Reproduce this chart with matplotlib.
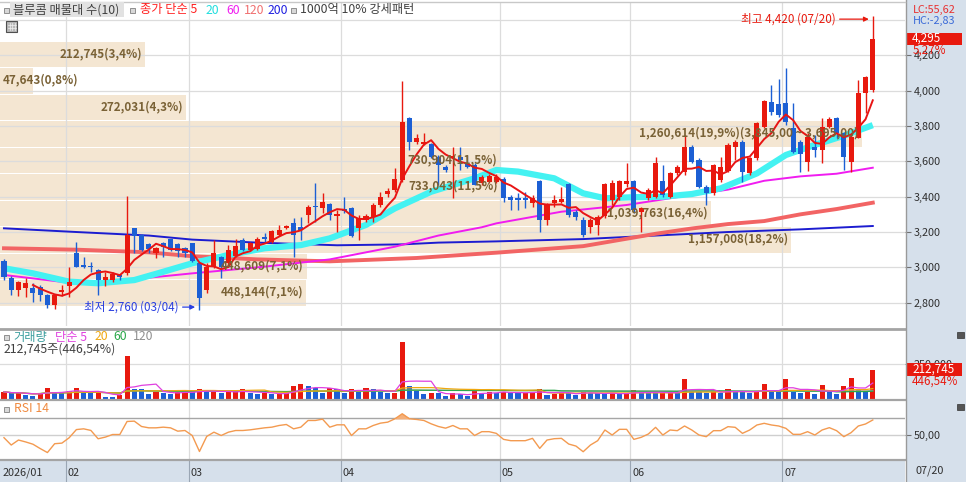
import matplotlib
matplotlib.use('Agg')
import matplotlib.pyplot as plt
import numpy as np
import pandas as pd
from matplotlib.patches import Rectangle
from matplotlib.lines import Line2D
from matplotlib.transforms import blended_transform_factory as blend
from matplotlib.ticker import FuncFormatter

plt.rcParams['font.family'] = ['Noto Sans CJK KR', 'DejaVu Sans']

# ---------------- data ----------------
opens = [3038, 2942, 2872, 2881, 2881, 2890, 2843, 2787, 2860, 2896,
         3079, 3013, 3010, 2985, 2928, 2928, 2957, 2966, 3221, 3183,
         3132, 3079, 3140, 3158, 3132, 3111, 3136, 3023, 2872, 3004,
         3057, 3023, 3064, 3155, 3098, 3106, 3170, 3145, 3183, 3221,
         3253, 3226, 3296, 3347, 3334, 3358, 3290, 3328, 3334, 3221,
         3268, 3287, 3353, 3415, 3438, 3494, 3843, 3711, 3700, 3698,
         3623, 3570, 3620, 3623, 3585, 3579, 3475, 3483, 3485, 3499,
         3397, 3391, 3391, 3363, 3491, 3268, 3363, 3372, 3472, 3315,
         3268, 3231, 3240, 3290, 3380, 3400, 3472, 3491, 3316, 3391,
         3397, 3491, 3400, 3532, 3542, 3680, 3608, 3457, 3419, 3495,
         3548, 3680, 3712, 3532, 3617, 3797, 3937, 3924, 3932, 3786,
         3711, 3598, 3683, 3664, 3796, 3843, 3758, 3598, 3735, 3988,
         4004]
highs = [3045, 2950, 2925, 2938, 2909, 2900, 2850, 2850, 2900, 3000,
         3145, 3057, 3032, 2989, 2976, 2975, 2965, 3404, 3225, 3190,
         3135, 3115, 3145, 3162, 3136, 3117, 3140, 3032, 3023, 3155,
         3064, 3126, 3158, 3164, 3145, 3174, 3196, 3211, 3240, 3240,
         3277, 3287, 3353, 3475, 3419, 3362, 3324, 3400, 3340, 3296,
         3300, 3362, 3428, 3447, 3560, 4057, 3853, 3755, 3760, 3706,
         3636, 3580, 3683, 3683, 3636, 3589, 3522, 3530, 3530, 3514,
         3410, 3420, 3429, 3410, 3495, 3363, 3410, 3457, 3480, 3325,
         3287, 3277, 3297, 3480, 3495, 3495, 3593, 3495, 3344, 3447,
         3627, 3580, 3542, 3580, 3750, 3693, 3617, 3466, 3585, 3627,
         3702, 3721, 3721, 3627, 3825, 3948, 4032, 4064, 4126, 3928,
         3721, 3758, 3749, 3843, 3853, 3853, 3768, 3758, 4060, 4083,
         4420]
lows = [2930, 2844, 2838, 2834, 2806, 2810, 2770, 2765, 2836, 2834,
        3000, 2994, 2976, 2844, 2895, 2915, 2930, 2955, 3079, 3090,
        3079, 3055, 3060, 3090, 3060, 3060, 3032, 2760, 2855, 2994,
        2938, 3004, 3060, 3090, 3090, 3100, 3145, 3136, 3177, 3215,
        3060, 3155, 3249, 3258, 3306, 3268, 3202, 3310, 3174, 3155,
        3258, 3258, 3340, 3400, 3428, 3485, 3664, 3700, 3693, 3617,
        3466, 3540, 3390, 3551, 3560, 3466, 3466, 3475, 3475, 3372,
        3325, 3325, 3335, 3344, 3202, 3240, 3344, 3363, 3287, 3268,
        3174, 3193, 3183, 3280, 3353, 3380, 3457, 3306, 3202, 3382,
        3391, 3400, 3391, 3520, 3523, 3589, 3448, 3353, 3410, 3485,
        3542, 3608, 3485, 3523, 3608, 3787, 3862, 3853, 3806, 3645,
        3541, 3547, 3627, 3592, 3787, 3730, 3551, 3541, 3730, 3872,
        3994]
closes = [2947, 2872, 2919, 2909, 2853, 2843, 2787, 2843, 2870, 2919,
          3004, 3004, 3000, 2928, 2947, 2960, 2943, 3183, 3177, 3098,
          3102, 3108, 3113, 3098, 3094, 3079, 3038, 2824, 3004, 3079,
          3004, 3098, 3121, 3098, 3136, 3158, 3160, 3206, 3211, 3234,
          3183, 3211, 3340, 3340, 3372, 3296, 3300, 3321, 3177, 3277,
          3291, 3353, 3396, 3434, 3498, 3825, 3711, 3730, 3710, 3623,
          3579, 3551, 3628, 3608, 3570, 3466, 3513, 3517, 3514, 3391,
          3382, 3382, 3382, 3391, 3268, 3353, 3382, 3386, 3297, 3287,
          3183, 3268, 3287, 3472, 3476, 3491, 3491, 3325, 3334, 3438,
          3593, 3410, 3536, 3570, 3680, 3598, 3457, 3423, 3580, 3570,
          3693, 3712, 3542, 3617, 3815, 3944, 3881, 3862, 3824, 3654,
          3641, 3739, 3664, 3796, 3838, 3758, 3626, 3739, 3988, 4080,
          4295]
volumes = [49000, 37000, 42000, 25000, 22000, 42000, 74000, 49000, 37000, 54000,
           74000, 49000, 42000, 44000, 12000, 10000, 25000, 310000, 69000, 68000,
           32000, 49000, 42000, 32000, 49000, 52000, 49000, 69000, 49000, 50000,
           42000, 49000, 50000, 69000, 37000, 32000, 37000, 36000, 37000, 38000,
           91000, 106000, 91000, 74000, 37000, 74000, 67000, 37000, 69000, 49000,
           74000, 67000, 49000, 37000, 42000, 415000, 91000, 54000, 32000, 42000,
           37000, 17000, 37000, 32000, 17000, 62000, 37000, 49000, 42000, 49000,
           42000, 37000, 42000, 49000, 67000, 25000, 32000, 49000, 42000, 25000,
           49000, 42000, 37000, 32000, 37000, 32000, 42000, 62000, 44000, 42000,
           37000, 42000, 49000, 44000, 141000, 49000, 49000, 42000, 49000, 44000,
           67000, 52000, 49000, 37000, 49000, 104000, 49000, 49000, 143000, 49000,
           44000, 49000, 32000, 99000, 49000, 32000, 91000, 153000, 62000, 47643,
           212745]
rsi14 = [46.8, 38.0, 44.0, 41.7, 39.0, 33.8, 29.0, 39.6, 40.3, 46.7,
         56.5, 57.4, 55.5, 45.5, 47.5, 50.6, 50.6, 66.2, 66.6, 60.2,
         58.6, 58.6, 59.4, 58.6, 54.6, 55.4, 49.4, 30.3, 48.3, 53.4,
         49.4, 53.4, 55.4, 55.4, 56.2, 57.4, 58.6, 59.4, 61.4, 62.6,
         57.4, 59.4, 67.4, 67.4, 69.0, 59.4, 62.2, 62.2, 49.4, 57.4,
         57.4, 61.4, 64.2, 65.4, 69.4, 75.4, 69.4, 68.6, 67.4, 63.4,
         60.2, 58.2, 61.4, 57.4, 57.4, 49.4, 54.0, 54.0, 52.0, 44.8,
         43.2, 43.2, 43.2, 46.0, 34.0, 44.0, 45.6, 46.0, 39.2, 36.8,
         30.0, 38.0, 43.2, 56.0, 50.0, 56.8, 56.8, 44.8, 47.2, 51.2,
         59.2, 50.0, 56.0, 55.2, 60.8, 56.0, 50.0, 48.0, 55.2, 55.2,
         60.0, 59.2, 52.0, 56.0, 62.0, 64.0, 62.0, 60.8, 58.0, 50.8,
         50.8, 54.0, 50.0, 56.0, 58.8, 55.2, 48.0, 52.8, 60.8, 63.2,
         68.0]

# moving averages of price (candle index, value)
ma20_idx = [0, 4, 9, 13, 18, 22, 26, 31, 36, 41, 45, 50, 54, 59, 65, 68, 71, 76, 80, 83, 87, 91, 95, 99, 104, 108, 112, 116, 120]
ma20_val = [2995, 2966, 2919, 2910, 2928, 2975, 3023, 3070, 3108, 3126, 3164, 3240, 3334, 3428, 3504, 3551, 3542, 3504, 3419, 3391, 3397, 3400, 3415, 3447, 3532, 3636, 3693, 3745, 3805]
ma60_idx = [0, 9, 16, 26, 36, 45, 54, 60, 66, 68, 77, 86, 95, 100, 105, 110, 115, 120]
ma60_val = [2957, 2913, 2925, 2966, 3004, 3045, 3117, 3180, 3227, 3249, 3315, 3353, 3410, 3440, 3490, 3515, 3530, 3564]
ma120_idx = [0, 10, 20, 26, 35, 45, 57, 68, 80, 90, 95, 100, 105, 110, 115, 120]
ma120_val = [3108, 3100, 3085, 3063, 3045, 3034, 3053, 3083, 3120, 3190, 3220, 3245, 3262, 3300, 3330, 3366]
ma200_idx = [0, 10, 20, 26, 35, 46, 55, 60, 68, 80, 90, 100, 110, 120]
ma200_val = [3221, 3200, 3180, 3157, 3140, 3125, 3130, 3140, 3147, 3160, 3180, 3200, 3215, 3234]

# volume profile (매물대), 10 price bins from the top
vp_volumes = [212745, 47643, 272031, 1260614, 730904, 733043, 1039763, 1157008, 448609, 448144]
vp_top = 4295
vp_step = 150

month_labels = ['2026/01', '02', '03', '04', '05', '06', '07']
month_start = [0, 9, 26, 47, 69, 87, 108]
high_date = '07/20'
low_date = '03/04'
last_date = '07/20'
lc_text = 'LC:55,62'
hc_text = 'HC:-2,83'

# ---------------- style ----------------
W, H = 966, 482
RED = '#e8190e'
BLUE = '#1c5fd4'
GRID = '#dcdcdc'
BEIGE = '#f4e6d2'
BROWN = '#7a6236'
STRIP = '#d6e0eb'
FS = 8.8

fig = plt.figure(figsize=(W / 100, H / 100), dpi=100)
fig.patch.set_facecolor('white')


def axrect(top, bottom, left=0, right=905):
    return [left / W, 1 - bottom / H, (right - left) / W, (bottom - top) / H]


def fx(xp):
    return xp / W


def fy(yp):
    return 1 - yp / H


fig.patches.append(Rectangle((fx(906), 0), fx(60), 1, transform=fig.transFigure,
                             fc=STRIP, ec='none', zorder=-5))

ax = fig.add_axes(axrect(2, 326))
axv = fig.add_axes(axrect(331, 398.5), sharex=ax)
axr = fig.add_axes(axrect(401, 459), sharex=ax)
axd = fig.add_axes(axrect(461, 482), sharex=ax)

n = len(closes)
assert len(opens) == n and len(highs) == n and len(lows) == n and len(volumes) == n and len(rsi14) == n
x = np.arange(n)
o = np.array(opens, float)
h = np.array(highs, float)
l = np.array(lows, float)
c = np.array(closes, float)
v = np.array(volumes, float)
r = np.array(rsi14, float)

for a in (ax, axv, axr, axd):
    a.set_xlim(-0.55, 124.45)
    for s in a.spines.values():
        s.set_visible(False)
    a.tick_params(axis='x', which='both', bottom=False, labelbottom=False)

# ---------------- price panel ----------------
ax.set_ylim(2668, 4502)
bl = blend(ax.transAxes, ax.transData)
vmax = max(vp_volumes)
vtot = sum(vp_volumes)
for k, vol in enumerate(vp_volumes):
    top = vp_top - vp_step * k
    bot = top - vp_step
    frac = vol / vmax * 0.952
    ax.add_patch(Rectangle((0, bot - 12), frac, vp_step - 6, transform=bl,
                           fc=BEIGE, ec='none', zorder=0.3))
    pct = f'{vol / vtot * 100:.1f}'.replace('.', ',')
    label = f'{vol:,}({pct}%)'
    if vol == vmax:
        label += f'({top:,.2f} ~ {bot:,.2f})'.replace('.', ',')
    ym = (top + bot) / 2 - 10
    if vol / vmax < 0.1:
        ax.text(0.003, ym, label, transform=bl, ha='left', va='center',
                fontsize=8.4, color=BROWN, fontweight='bold', zorder=8)
    else:
        ax.text(frac - 0.003, ym, label, transform=bl, ha='right', va='center',
                fontsize=8.4, color=BROWN, fontweight='bold', zorder=8)

for p in range(2800, 4401, 200):
    ax.axhline(p, color=GRID, lw=0.9, zorder=0.6)
for s in month_start[1:]:
    for a in (ax, axv, axr):
        a.axvline(s - 0.5, color=GRID, lw=0.9, zorder=0.6)

ax.plot(ma200_idx, ma200_val, color='#1c1cd0', lw=1.4, zorder=1.5)
ax.plot(ma120_idx, ma120_val, color='#f26464', lw=2.8, zorder=1.5)
ax.plot(ma60_idx, ma60_val, color='#f01cf0', lw=1.4, zorder=1.6)
ax.plot(ma20_idx, ma20_val, color='#44f2f2', lw=4.5, zorder=1.7, solid_capstyle='butt')

up = c >= o
ccol = np.where(up, RED, BLUE)
ax.vlines(x, l, h, colors=ccol, lw=1, zorder=3)
body_lo = np.minimum(o, c)
body_h = np.maximum(np.abs(c - o), 7)
ax.bar(x, body_h, bottom=body_lo, width=0.7, color=ccol, zorder=3.1, linewidth=0)

ma5 = pd.Series(c).rolling(5).mean()
ax.plot(x, ma5, color='#e81414', lw=1.4, zorder=4)

ax.yaxis.tick_right()
ax.set_yticks(range(2800, 4201, 200))
ax.yaxis.set_major_formatter(FuncFormatter(lambda val, pos: f'{int(val):,}'))
ax.tick_params(axis='y', direction='out', length=4, width=0.8, color='#707070',
               pad=2, labelsize=7.8, labelcolor='#303030')

ihi = int(np.argmax(h))
ilo = int(np.argmin(l))
ax.annotate(f'최고 {int(h[ihi]):,} ({high_date})', xy=(ihi - 0.55, h[ihi] - 15),
            xytext=(-24, 0), textcoords='offset points', ha='right', va='center',
            fontsize=8.4, color=RED, zorder=9,
            arrowprops=dict(arrowstyle='-|>', color=RED, lw=0.9, mutation_scale=7,
                            shrinkA=1, shrinkB=0))
ax.annotate(f'최저 {int(l[ilo]):,} ({low_date})', xy=(ilo - 0.6, l[ilo] + 15),
            xytext=(-12, 0), textcoords='offset points', ha='right', va='center',
            fontsize=8.4, color='#2a3fe0', zorder=9,
            arrowprops=dict(arrowstyle='-|>', color='#2a3fe0', lw=0.9, mutation_scale=7,
                            shrinkA=1, shrinkB=0))

# last price box
chg = (c[-1] / c[-2] - 1) * 100
ax.add_patch(Rectangle((1.0022, c[-1] - 34), 0.0608, 68, transform=bl,
                       fc=RED, ec='none', clip_on=False, zorder=10))
ax.text(1.008, c[-1], f'{int(c[-1]):,}', transform=bl, ha='left', va='center',
        fontsize=8.4, color='white', zorder=11, clip_on=False)
ax.annotate(f'{chg:.2f}%'.replace('.', ','), xy=(1.008, c[-1]), xycoords=bl,
            xytext=(0, -8.5), textcoords='offset points', ha='left', va='center',
            fontsize=8.4, color=RED, zorder=11, annotation_clip=False)

# ---------------- volume panel ----------------
axv.set_ylim(0, 67.5 * 7340)
vcol = [RED] + [RED if v[i] > v[i - 1] else BLUE for i in range(1, n)]
axv.axhline(250000, color=GRID, lw=0.9, zorder=0.6)
axv.bar(x, v, width=0.7, color=vcol, zorder=3, linewidth=0)
vs = pd.Series(v)
axv.plot(x, vs.rolling(120, min_periods=1).mean(), color='#a0a0a0', lw=0.9, zorder=4)
axv.plot(x, vs.rolling(60, min_periods=1).mean(), color='#2aa84a', lw=0.9, zorder=4)
axv.plot(x, vs.rolling(20, min_periods=1).mean(), color='#f0a810', lw=0.9, zorder=4)
axv.plot(x, vs.rolling(5, min_periods=1).mean(), color='#e040e0', lw=0.9, zorder=4)
axv.yaxis.tick_right()
axv.set_yticks([250000])
axv.yaxis.set_major_formatter(FuncFormatter(lambda val, pos: f'{int(val):,}'))
axv.tick_params(axis='y', direction='out', length=4, width=0.8, color='#707070',
                pad=2, labelsize=7.8, labelcolor='#303030')
blv = blend(axv.transAxes, axv.transData)
axv.add_patch(Rectangle((1.0022, v[-1] - 6.5 * 7340), 0.0608, 13 * 7340, transform=blv,
                        fc=RED, ec='none', clip_on=False, zorder=10))
axv.text(1.008, v[-1], f'{int(v[-1]):,}', transform=blv, ha='left', va='center',
         fontsize=8.4, color='white', zorder=11, clip_on=False)
vpct = v[-1] / v[-2] * 100
axv.annotate(f'{vpct:.2f}%'.replace('.', ','), xy=(1.008, v[-1]), xycoords=blv,
             xytext=(0, -8.5), textcoords='offset points', ha='left', va='center',
             fontsize=8.4, color=RED, zorder=11, annotation_clip=False)

# ---------------- RSI panel ----------------
axr.set_ylim(21.3, 90.7)
axr.axhline(70, color='#a6a6a6', lw=1.0, zorder=0.7)
axr.axhline(50, color='#cfcfcf', lw=1.0, zorder=0.7)
axr.fill_between(x, r, 70, where=r > 70, interpolate=True, color='#f5b07a', zorder=1)
axr.plot(x, r, color='#f39a50', lw=1.0, zorder=3)
axr.yaxis.tick_right()
axr.set_yticks([50])
axr.yaxis.set_major_formatter(FuncFormatter(lambda val, pos: f'{val:.2f}'.replace('.', ',')))
axr.tick_params(axis='y', direction='out', length=4, width=0.8, color='#707070',
                pad=2, labelsize=7.8, labelcolor='#303030')

# ---------------- date strip ----------------
axd.set_facecolor(STRIP)
axd.set_ylim(0, 1)
axd.set_yticks([])
for s, lab in zip(month_start, month_labels):
    if s > 0:
        axd.axvline(s - 0.5, color='#9aa6b4', lw=0.8)
    axd.text(max(s - 0.5, -0.55) + 0.25, 0.45, lab, ha='left', va='center',
             fontsize=7.8, color='#303030')
fig.text(fx(915), fy(470.5), last_date, ha='left', va='center', fontsize=7.8, color='#303030')

# ---------------- separators ----------------
for yy, lw in ((328.5, 2.0), (399.6, 1.6), (460.0, 1.6)):
    fig.add_artist(Line2D([0, fx(905)], [fy(yy), fy(yy)], color='#a4a4a4', lw=lw))
fig.add_artist(Line2D([fx(905.5), fx(905.5)], [0, 1], color='#9a9a9a', lw=1.0))
fig.add_artist(Line2D([0, fx(905)], [fy(1.5), fy(1.5)], color='#c8c8c8', lw=1.0))


# ---------------- legends / labels ----------------
def icon(xp, yp, size=5):
    fig.patches.append(Rectangle((fx(xp), fy(yp + size / 2)), size / W, size / H,
                                 transform=fig.transFigure, fc='#d8d8d8', ec='#808080',
                                 lw=0.6, zorder=20))


icon(4, 10)
fig.patches.append(Rectangle((fx(10), fy(16.5)), fx(114), 14 / H, transform=fig.transFigure,
                             fc='#e2e2e2', ec='none', zorder=19))
fig.text(fx(13), fy(10), '블루콤 매물대 수(10)', fontsize=FS, color='#404040', va='center', zorder=21)
icon(130, 10)
fig.text(fx(140), fy(10), '종가 단순 5', fontsize=FS, color='#ff2020', va='center', zorder=21)
fig.text(fx(206), fy(10), '20', fontsize=FS, color='#22dede', va='center', zorder=21)
fig.text(fx(226), fy(10), '60', fontsize=FS, color='#f020f0', va='center', zorder=21)
fig.text(fx(244), fy(10), '120', fontsize=FS, color='#f07070', va='center', zorder=21)
fig.text(fx(268), fy(10), '200', fontsize=FS, color='#2020e0', va='center', zorder=21)
icon(291, 10)
fig.text(fx(300), fy(10), '1000억 10% 강세패턴', fontsize=FS, color='#404040', va='center', zorder=21)
fig.patches.append(Rectangle((fx(6), fy(32)), 11 / W, 11 / H, transform=fig.transFigure,
                             fc='#b8b8b8', ec='#505050', lw=0.8, zorder=20))
for gx in (9.5, 12, 14.5):
    fig.add_artist(Line2D([fx(gx), fx(gx)], [fy(30), fy(23)], color='#f0f0f0', lw=0.5, zorder=21))
for gy in (25, 28):
    fig.add_artist(Line2D([fx(7.5), fx(15.5)], [fy(gy), fy(gy)], color='#f0f0f0', lw=0.5, zorder=21))

icon(4, 337)
fig.text(fx(13), fy(337), '거래량', fontsize=FS, color='#3a9e9e', va='center', zorder=21)
fig.text(fx(55), fy(337), '단순 5', fontsize=FS, color='#e040e0', va='center', zorder=21)
fig.text(fx(95), fy(337), '20', fontsize=FS, color='#f0a810', va='center', zorder=21)
fig.text(fx(113), fy(337), '60', fontsize=FS, color='#2aa84a', va='center', zorder=21)
fig.text(fx(133), fy(337), '120', fontsize=FS, color='#909090', va='center', zorder=21)
fig.text(fx(4), fy(349), f'{int(v[-1]):,}주({vpct:.2f}%)'.replace('.', ','), fontsize=FS,
         color='#404040', va='center', zorder=21)

icon(4, 409)
fig.text(fx(14), fy(409), 'RSI 14', fontsize=FS, color='#f08a40', va='center', zorder=21)

fig.text(fx(913), fy(9.5), lc_text, fontsize=7.8, color='#e83030', va='center')
fig.text(fx(913), fy(21), hc_text, fontsize=7.8, color='#3a6ad8', va='center')
for yy in (335, 407):
    fig.patches.append(Rectangle((fx(957), fy(yy + 3)), 7 / W, 6 / H, transform=fig.transFigure,
                                 fc='#555555', ec='#333333', lw=0.5, zorder=20))

fig.savefig('out.png', dpi=100, facecolor='white')
